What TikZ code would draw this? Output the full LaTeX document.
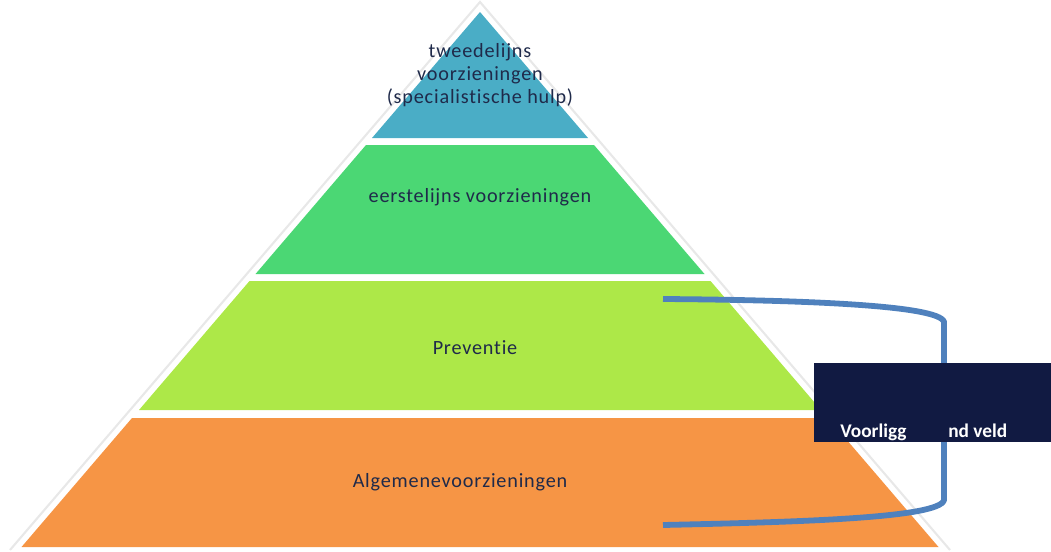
\documentclass[tikz,border=0pt]{standalone}
\usepackage{fontspec}
\setmainfont{Carlito}
\usetikzlibrary{positioning}
\definecolor{toplayer}{HTML}{4AADC6}
\definecolor{firstline}{HTML}{4BD774}
\definecolor{prevlayer}{HTML}{ADE848}
\definecolor{baselayer}{HTML}{F69545}
\definecolor{labeltext}{HTML}{1F2A4A}
\definecolor{bracketblue}{HTML}{4F81BD}
\definecolor{fieldbox}{HTML}{111A42}

\begin{document}
\begin{tikzpicture}[x=0.02cm, y=-0.02cm,
    layertext/.style={text=labeltext, align=center, font=\fontsize{11.5}{13}\selectfont\addfontfeature{LetterSpace=4,Ligatures=NoCommon}},
    fieldtext/.style={text=white, font=\fontsize{11}{13}\selectfont\bfseries, anchor=base west, inner sep=0pt}]
      \useasboundingbox (0,0) rectangle (1051,551);

      % faint outline of the whole pyramid
      \draw[gray!18, line width=1.2pt] (10,550) -- (480,2) -- (950,550);

      % layers, top to bottom
      \fill[toplayer] (480,12) -- (588,138) -- (372,138) -- cycle;
      \fill[firstline] (366,145) -- (594,145) -- (704.5,274) -- (255.5,274) -- cycle;
      \fill[prevlayer] (249.5,281) -- (710.5,281) -- (821,410) -- (139,410) -- cycle;
      \fill[baselayer] (132,418) -- (828,418) -- (938.5,547) -- (21.5,547) -- cycle;

      % layer labels
      \node[layertext] (tweede) at (480,75) {tweedelijns\\voorzieningen\\(specialistische hulp)};
      \node[layertext] (eerste) at (480,197) {eerstelijns voorzieningen};
      \node[layertext] (prev) at (475,348) {Preventie};
      \node[layertext] (alg) at (460,482) {Algemenevoorzieningen};

      % bracket round the two lower layers
      \coordinate (brtop) at (663,299);
      \coordinate (brbot) at (663,525);
      \draw[bracketblue, line width=3.3pt] (brtop) .. controls (800,300) and (940,305) .. (944,322)
            -- (944,500) .. controls (940,518) and (800,522) .. (brbot);

      % box for the field
      \fill[fieldbox] (814,363) rectangle (1051,442);
      \node[fieldtext] (veld1) at (840,437) {Voorligg};
      \node[fieldtext] (veld2) at (948,437) {nd veld};
    \end{tikzpicture}
\end{document}
